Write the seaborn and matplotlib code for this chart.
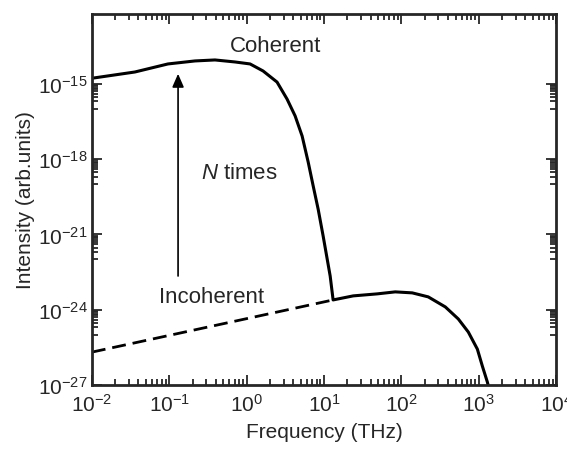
import numpy as np
import pandas as pd
import matplotlib
matplotlib.use("Agg")
import matplotlib.pyplot as plt
import matplotlib.ticker as mticker
import seaborn as sns

# values (THz, arb. units)
coh_freq = [0.0100, 0.0360, 0.0962, 0.215, 0.390, 0.708, 1.107, 1.63, 2.47,
            3.33, 4.23, 5.21, 6.24, 7.24, 8.4, 9.73, 12.0, 13.1]
coh_int = [1.66e-15, 2.95e-15, 6.17e-15, 8.13e-15, 8.9e-15, 7.4e-15, 6.17e-15,
           3.24e-15, 1.17e-15, 2.45e-16, 5.25e-17, 8.3e-18, 7.6e-19, 8.5e-20,
           1.0e-20, 8.7e-22, 2.2e-23, 2.45e-24]
inc_freq = [13.1, 23.8, 48.6, 83.2, 138, 222, 369, 543, 731, 957, 1109, 1288, 1318]
inc_int = [2.45e-24, 3.55e-24, 4.27e-24, 5.13e-24, 4.68e-24, 3.24e-24, 1.29e-24,
           4.27e-25, 1.29e-25, 2.69e-26, 5.75e-27, 1.32e-27, 1.0e-27]
dash_freq = [0.010, 13.1]
dash_int = [2.04e-26, 2.45e-24]
y_major = [1e-27, 1e-24, 1e-21, 1e-18, 1e-15]

sns.set_style("ticks")
plt.rcParams["font.family"] = ["Liberation Sans", "DejaVu Sans"]
plt.rcParams["mathtext.fontset"] = "custom"
plt.rcParams["mathtext.rm"] = "Liberation Sans"
plt.rcParams["mathtext.it"] = "Liberation Sans:italic"

solid = pd.DataFrame({"freq": coh_freq + inc_freq[1:], "inten": coh_int + inc_int[1:]})
dashed = pd.DataFrame({"freq": dash_freq, "inten": dash_int})

fig = plt.figure(figsize=(5.67, 4.56), dpi=100)
ax = fig.add_axes([0.162, 0.1535, 0.819, 0.8135])

sns.lineplot(x="freq", y="inten", data=solid, sort=False, estimator=None,
             color="black", linewidth=2.2, ax=ax)
sns.lineplot(x="freq", y="inten", data=dashed, sort=False, estimator=None,
             color="black", linewidth=2.0, ax=ax)
ax.lines[-1].set_dashes((5, 2.5))

ax.set_xscale("log")
ax.set_yscale("log")
ax.set_xlim(1e-2, 1e4)
ax.set_ylim(1e-27, 6e-13)

ax.xaxis.set_major_locator(mticker.LogLocator(base=10, numticks=10))
ax.xaxis.set_minor_locator(mticker.LogLocator(base=10, subs=np.arange(2, 10), numticks=20))
ax.xaxis.set_major_formatter(mticker.FuncFormatter(lambda v, p: r"$10^{%d}$" % round(np.log10(v))))
ax.xaxis.set_minor_formatter(mticker.NullFormatter())

ax.yaxis.set_major_locator(mticker.FixedLocator(y_major))
y_minor = [k * m / 10 for m in y_major for k in range(1, 10)]
ax.yaxis.set_minor_locator(mticker.FixedLocator(y_minor))
ax.yaxis.set_major_formatter(mticker.FuncFormatter(lambda v, p: r"$10^{%d}$" % round(np.log10(v))))
ax.yaxis.set_minor_formatter(mticker.NullFormatter())

ax.tick_params(which="both", direction="in", top=True, right=True, width=1.3, labelsize=15)
ax.tick_params(which="major", length=7)
ax.tick_params(which="minor", length=4)
ax.tick_params(axis="x", which="major", pad=6)
ax.tick_params(axis="y", which="major", pad=3)
for s in ax.spines.values():
    s.set_linewidth(2.0)
    s.set_visible(True)

ax.set_xlabel("Frequency (THz)", fontsize=15, labelpad=5)
ax.set_ylabel("Intensity (arb.units)", fontsize=15, labelpad=2)

ax.annotate("", xy=(0.13, 2.5e-15), xytext=(0.13, 2.2e-23),
            arrowprops=dict(arrowstyle="-|>,head_length=0.8,head_width=0.35",
                            color="black", lw=1.2, shrinkA=0, shrinkB=0))
ax.text(2.33, 3.5e-14, "Coherent", fontsize=16, ha="center", va="center")
ax.text(0.80, 2.8e-19, r"$N$ times", fontsize=16, ha="center", va="center")
ax.text(0.356, 3.5e-24, "Incoherent", fontsize=16, ha="center", va="center")

fig.savefig("out.png", dpi=100)
